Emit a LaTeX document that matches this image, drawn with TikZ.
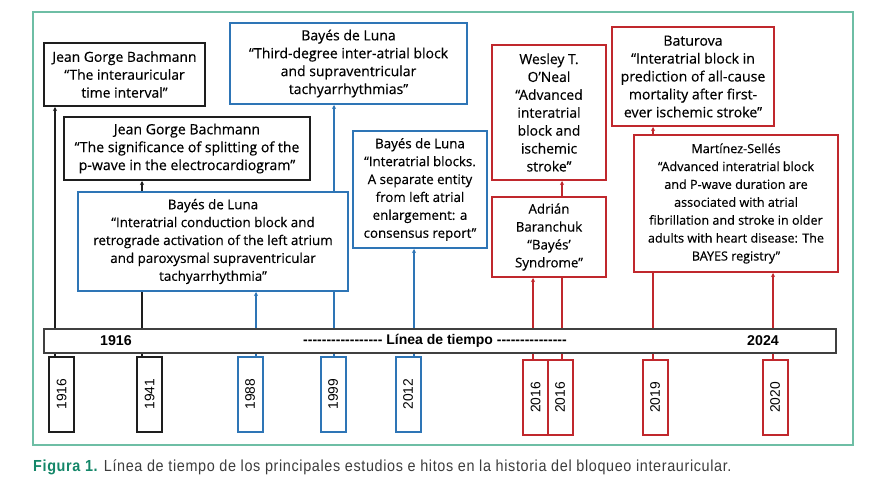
\documentclass[tikz,border=0pt]{standalone}
\usepackage{fontspec}
\setmainfont[FakeBold=0.4]{Open Sans}
\newfontfamily\arialfont{Liberation Sans}
\newfontfamily\capfont[FakeStretch=0.9,LetterSpace=4]{Liberation Sans}
\usetikzlibrary{arrows.meta,backgrounds}

\definecolor{ibblue}{RGB}{46,117,182}
\definecolor{ibred}{RGB}{192,40,45}
\definecolor{ibdark}{RGB}{30,30,30}
\definecolor{ibframe}{RGB}{110,190,165}
\definecolor{capgreen}{RGB}{20,135,105}
\definecolor{capgrey}{RGB}{60,60,60}

\tikzset{
  evbox/.style={draw=ibdark, fill=white, line width=2pt, align=center, inner sep=1pt,
    font=\fontsize{#1}{17.9}\selectfont},
  evbox/.default=14,
  yearbox/.style={draw=ibdark, fill=white, line width=2pt, rotate=90, inner sep=0pt,
    minimum width=75pt, minimum height=25pt, font=\arialfont\fontsize{13.8}{15}\selectfont},
  link/.style={line width=1.3pt, -{Stealth[length=4pt,width=4pt]}},
  stub/.style={line width=1.3pt},
}

\begin{document}
\begin{tikzpicture}[x=1pt,y=-1pt]
    \useasboundingbox (0,0) rectangle (881,498);
    \draw[ibframe, line width=1.3pt] (33,12) rectangle (853,445);

    \node[draw=ibdark!85, fill=white, line width=1.8pt, minimum width=792pt, minimum height=24pt] (bar) at (440,341) {};
    \node[font=\arialfont\bfseries\fontsize{14.2}{15}\selectfont] (start) at (116,341) {1916};
    \node[font=\arialfont\bfseries\fontsize{14}{15}\selectfont] (label) at (435,341) {----------------- Línea de tiempo ---------------};
    \node[font=\arialfont\bfseries\fontsize{14.2}{15}\selectfont] (end) at (763,341) {2024};

    % studies above the line
    \node[evbox=13.9, minimum width=161pt, minimum height=63pt] (jgbA) at (124.5,74.5)
        {Jean Gorge Bachmann\\“The interauricular\\time interval”};
    \node[evbox=14.1, minimum width=246pt, minimum height=63pt] (jgbB) at (187,148.5)
        {Jean Gorge Bachmann\\“The significance of splitting of the\\p-wave in the electrocardiogram”};
    \node[evbox=13.4, draw=ibblue, minimum width=270pt, minimum height=99pt] (bdlA) at (213,241.5)
        {Bayés de Luna\\“Interatrial conduction block and\\retrograde activation of the left atrium\\and paroxysmal supraventricular\\tachyarrhythmia”};
    \node[evbox=14, draw=ibblue, minimum width=237pt, minimum height=81pt] (bdlB) at (348.5,63.5)
        {Bayés de Luna\\“Third-degree inter-atrial block\\and supraventricular\\tachyarrhythmias”};
    \node[evbox=13.3, draw=ibblue, minimum width=134pt, minimum height=117pt] (bdlC) at (420,189.5)
        {Bayés de Luna\\“Interatrial blocks.\\A separate entity\\from left atrial\\enlargement: a\\consensus report”};
    \node[evbox=13.9, draw=ibred, minimum width=114pt, minimum height=135pt] (oneal) at (549,112.5)
        {Wesley T.\\O'Neal\\“Advanced\\interatrial\\block and\\ischemic\\stroke”};
    \node[evbox=13.3, draw=ibred, minimum width=114pt, minimum height=80pt] (baran) at (549,237)
        {Adrián\\Baranchuk\\“Bayés'\\Syndrome”};
    \node[evbox=14.1, draw=ibred, minimum width=162pt, minimum height=99pt] (batur) at (693,76.5)
        {Baturova\\“Interatrial block in\\prediction of all-cause\\mortality after first-\\ever ischemic stroke”};
    \node[evbox=12.6, draw=ibred, minimum width=204pt, minimum height=137pt] (msel) at (736,203.5)
        {Martínez-Sellés\\“Advanced interatrial block\\and P-wave duration are\\associated with atrial\\fibrillation and stroke in older\\adults with heart disease: The\\BAYES registry”};

    % years below the line
    \node[yearbox] (y1916) at (61.5,394) {1916};
    \node[yearbox] (y1941) at (149.5,394) {1941};
    \node[yearbox, draw=ibblue] (y1988) at (250,394) {1988};
    \node[yearbox, draw=ibblue] (y1999) at (333,394) {1999};
    \node[yearbox, draw=ibblue] (y2012) at (408,394) {2012};
    \node[yearbox, draw=ibred] (y2016a) at (535.5,397.5) {2016};
    \node[yearbox, draw=ibred] (y2016b) at (560,397.5) {2016};
    \node[yearbox, draw=ibred] (y2019) at (655,397.5) {2019};
    \node[yearbox, draw=ibred] (y2020) at (775,397.5) {2020};

    \coordinate (t1916) at (55,0);
    \coordinate (t1941) at (142,0);
    \coordinate (t1988) at (256,0);
    \coordinate (t1999) at (334,0);
    \coordinate (t2012) at (414,0);
    \coordinate (t2016a) at (533,0);
    \coordinate (t2016b) at (562,0);
    \coordinate (t2019) at (653,0);
    \coordinate (t2020) at (773,0);

    \begin{scope}[on background layer]
    \draw[link, ibdark] (t1916 |- bar.north) -- (t1916 |- jgbA.south);
    \draw[link, ibdark] (t1941 |- bar.north) -- (t1941 |- jgbB.south);
    \draw[link, ibblue] (t1988 |- bar.north) -- (t1988 |- bdlA.south);
    \draw[link, ibblue] (t1999 |- bar.north) -- (t1999 |- bdlB.south);
    \draw[link, ibblue] (t2012 |- bar.north) -- (t2012 |- bdlC.south);
    \draw[link, ibred] (t2016a |- bar.north) -- (t2016a |- baran.south);
    \draw[link, ibred] (t2016b |- bar.north) -- (t2016b |- oneal.south);
    \draw[link, ibred] (t2019 |- bar.north) -- (t2019 |- batur.south);
    \draw[link, ibred] (t2020 |- bar.north) -- (t2020 |- msel.south);

    \draw[stub, ibdark] (t1916 |- bar.south) -- (t1916 |- y1916.east);
    \draw[stub, ibdark] (t1941 |- bar.south) -- (t1941 |- y1941.east);
    \draw[stub, ibblue] (t1988 |- bar.south) -- (t1988 |- y1988.east);
    \draw[stub, ibblue] (t1999 |- bar.south) -- (t1999 |- y1999.east);
    \draw[stub, ibblue] (t2012 |- bar.south) -- (t2012 |- y2012.east);
    \draw[stub, ibred] (t2016a |- bar.south) -- (t2016a |- y2016a.east);
    \draw[stub, ibred] (t2016b |- bar.south) -- (t2016b |- y2016b.east);
    \draw[stub, ibred] (t2019 |- bar.south) -- (t2019 |- y2019.east);
    \draw[stub, ibred] (t2020 |- bar.south) -- (t2020 |- y2020.east);
    \end{scope}

    \node[anchor=west, inner sep=0pt, font=\capfont\fontsize{16}{17}\selectfont, text=capgrey] (caption) at (33,467)
        {\textcolor{capgreen}{\bfseries Figura 1.} Línea de tiempo de los principales estudios e hitos en la historia del bloqueo interauricular.};
\end{tikzpicture}
\end{document}
